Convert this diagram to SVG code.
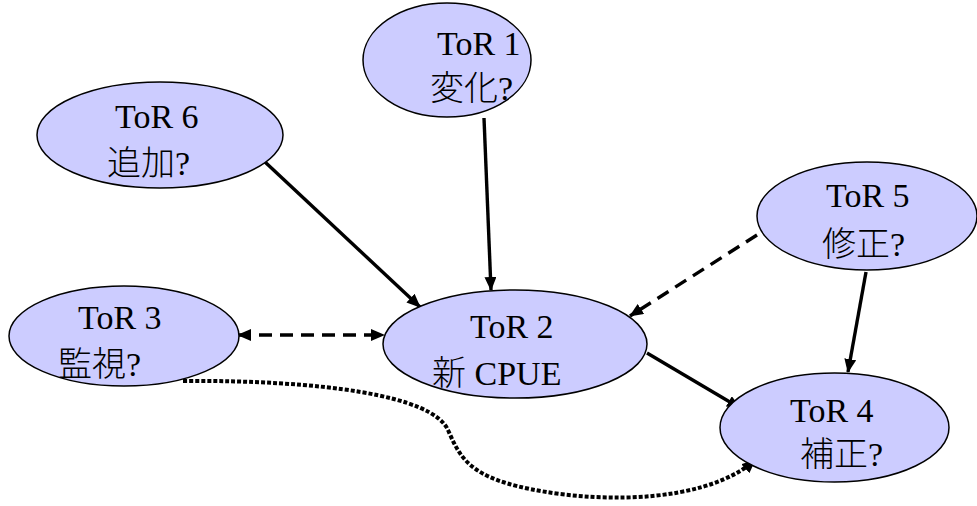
<svg xmlns="http://www.w3.org/2000/svg" width="977" height="506" viewBox="0 0 977 506">
<style>
.n{fill:#CCCCFF;stroke:#000;stroke-width:1.5}
.t{font-family:"Liberation Serif","Noto Sans CJK JP",serif;font-size:34px;fill:#000}
.j{font-weight:300}
.c{fill:none;stroke:#000;stroke-width:3.4}
.d{stroke-dasharray:13 8}
.o{stroke-dasharray:4 2;stroke-width:4}
</style>
<defs>
<marker id="a" markerUnits="userSpaceOnUse" markerWidth="14" markerHeight="12" refX="13" refY="6" orient="auto">
<path d="M0,0 L14,6 L0,12 Z" fill="#000"/>
</marker>
<marker id="s" markerUnits="userSpaceOnUse" markerWidth="14" markerHeight="12" refX="1" refY="6" orient="auto">
<path d="M14,0 L0,6 L14,12 Z" fill="#000"/>
</marker>
</defs>
<g id="connectors">
<line class="c" x1="484" y1="118" x2="491" y2="290" marker-end="url(#a)"/>
<line class="c" x1="265" y1="162" x2="420" y2="307" marker-end="url(#a)"/>
<line class="c d" x1="757" y1="235" x2="630" y2="316" marker-end="url(#a)"/>
<line class="c d" x1="238" y1="335" x2="384" y2="335" marker-start="url(#s)" marker-end="url(#a)"/>
<line class="c" x1="647" y1="353" x2="740" y2="408" marker-end="url(#a)"/>
<line class="c" x1="866" y1="272" x2="848" y2="372" marker-end="url(#a)"/>
<path class="c o" d="M183,381 C320,380 432,395 448,430 C462,462 472,482 560,494 C650,505 722,490 755,460" marker-end="url(#a)"/>
</g>
<g id="tor1"><ellipse class="n" cx="447" cy="60" rx="84" ry="57"/><text class="t" x="437" y="55">ToR 1</text><text class="t j" x="430" y="100">変化?</text></g>
<g id="tor6"><ellipse class="n" cx="160" cy="135" rx="123" ry="53"/><text class="t" x="115" y="128">ToR 6</text><text class="t j" x="107" y="175">追加?</text></g>
<g id="tor3"><ellipse class="n" cx="124" cy="336" rx="115" ry="50"/><text class="t" x="78" y="329">ToR 3</text><text class="t j" x="58" y="376">監視?</text></g>
<g id="tor2"><ellipse class="n" cx="515" cy="344" rx="132" ry="54"/><text class="t" x="470" y="338">ToR 2</text><text class="t" x="432" y="385"><tspan class="j">新</tspan> CPUE</text></g>
<g id="tor5"><ellipse class="n" cx="867" cy="216" rx="110" ry="54"/><text class="t" x="826" y="207">ToR 5</text><text class="t j" x="822" y="256">修正?</text></g>
<g id="tor4"><ellipse class="n" cx="834.5" cy="427.5" rx="114.5" ry="54.5"/><text class="t" x="790" y="422">ToR 4</text><text class="t j" x="800" y="466">補正?</text></g>
</svg>
